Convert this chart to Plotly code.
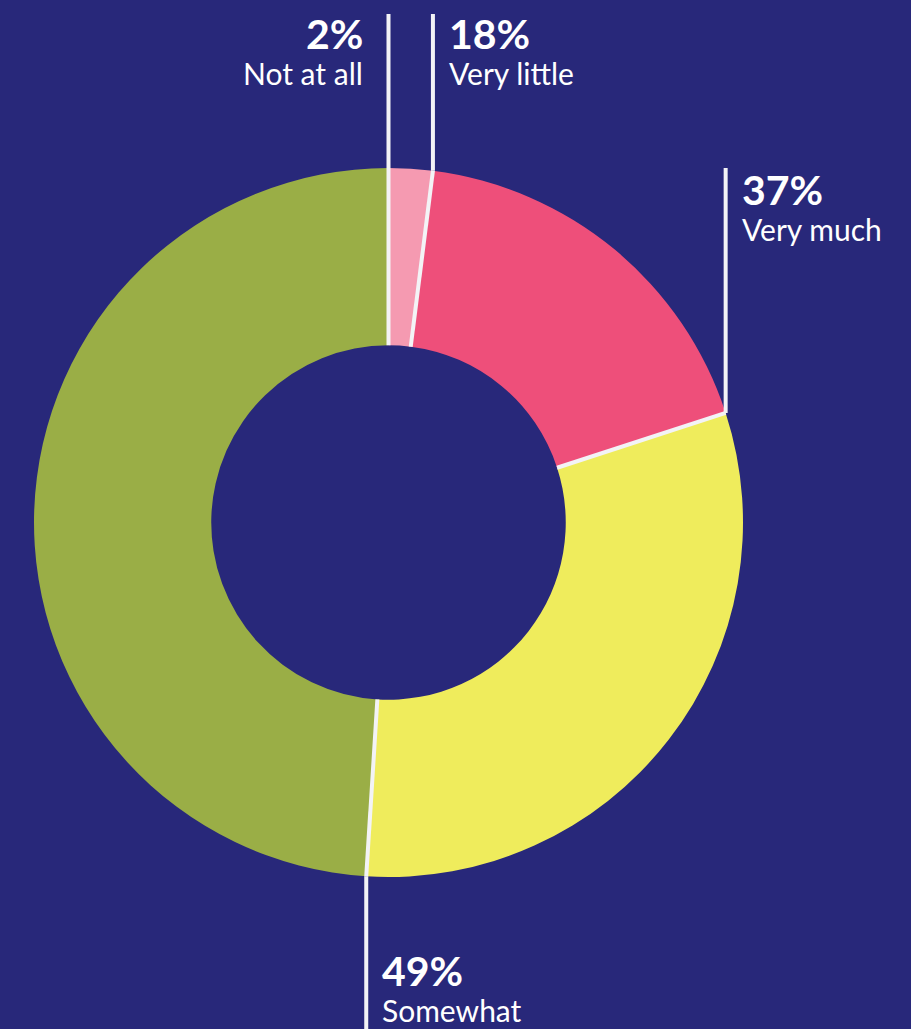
import math
import plotly.graph_objects as go

# ---- data ----
categories = ["Not at all", "Very little", "Very much", "Somewhat"]
shares = [2, 18, 31, 49]                      # slice sizes as drawn
share_labels = ["2%", "18%", "37%", "49%"]    # percentages printed on the chart
colors = ["#F59AB1", "#EE4F7A", "#EFEC5C", "#9AAE46"]

# ---- layout constants ----
W, H = 911, 1029
BG = "#28287A"
LINE = "#F3F3F6"
FONT = "Lato"
CX, CY, R = 388.5, 522.5, 354.5
HOLE = 0.5
leader_end_y = [14, 14, 168, H + 10]          # where each boundary leader stops
label_side = ["left", "right", "right", "right"]
label_top = [14, 14, 170, 951]


def px(x):
    return x / W


def py(y):
    return 1 - y / H


fig = go.Figure(
    go.Pie(
        labels=categories,
        values=shares,
        sort=False,
        direction="clockwise",
        rotation=0,
        hole=HOLE,
        marker=dict(colors=colors, line=dict(width=0)),
        textinfo="none",
        hoverinfo="label+percent",
        showlegend=False,
        domain=dict(x=[px(CX - R), px(CX + R)], y=[py(CY + R), py(CY - R)]),
    )
)

total = sum(shares)
cum = 0.0
shapes = []
annotations = []
for i, v in enumerate(shares):
    theta = math.radians(cum / total * 360.0)
    cum += v
    xi = CX + R * HOLE * math.sin(theta)
    yi = CY - R * HOLE * math.cos(theta)
    xo = CX + R * math.sin(theta)
    yo = CY - R * math.cos(theta)
    # radial separator
    shapes.append(dict(type="line", xref="paper", yref="paper",
                       x0=px(xi), y0=py(yi), x1=px(xo), y1=py(yo),
                       line=dict(color=LINE, width=4), layer="above"))
    # vertical leader
    shapes.append(dict(type="line", xref="paper", yref="paper",
                       x0=px(xo), y0=py(yo), x1=px(xo), y1=py(leader_end_y[i]),
                       line=dict(color=LINE, width=4), layer="above"))
    if label_side[i] == "left":
        tx, anchor = xo - 24, "right"
    else:
        tx, anchor = xo + 14, "left"
    top = label_top[i]
    annotations.append(dict(xref="paper", yref="paper", x=px(tx), y=py(top - 7),
                            xanchor=anchor, yanchor="top", showarrow=False,
                            text="<b>" + share_labels[i] + "</b>",
                            font=dict(family=FONT, size=41, color="white")))
    annotations.append(dict(xref="paper", yref="paper", x=px(tx),
                            y=max(py(top + 39), 0) if False else py(top + 39),
                            xanchor=anchor, yanchor="top", showarrow=False,
                            text=categories[i],
                            font=dict(family=FONT, size=30, color="white")))

fig.update_layout(
    width=W, height=H,
    margin=dict(l=0, r=0, t=0, b=0),
    paper_bgcolor=BG, plot_bgcolor=BG,
    shapes=shapes, annotations=annotations,
    showlegend=False,
)

fig.write_html(
    "out.html",
    config={"displayModeBar": False},
    post_script="document.body.style.margin='0';document.body.style.background='" + BG + "';",
)
